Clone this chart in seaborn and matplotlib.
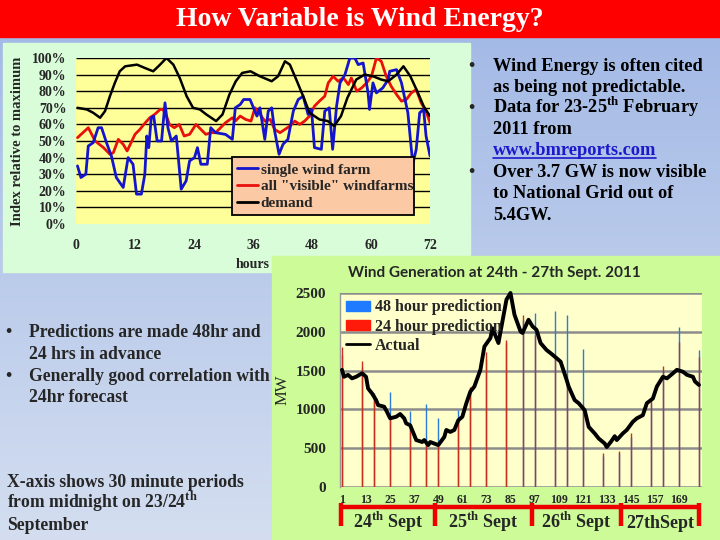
import numpy as np
import matplotlib
matplotlib.use("Agg")
import matplotlib.pyplot as plt
import matplotlib.transforms as mtransforms
from matplotlib.patches import Rectangle, Patch
from matplotlib.lines import Line2D
import seaborn as sns

# ---- chart 1: 23-25 Feb 2011, index relative to maximum ----
farm_hours = [0.3, 1, 2, 2.5, 3.5, 4.5, 5.2, 6.2, 7.2, 8.2, 9.6, 10.6, 11.6, 12.3, 13.3, 14, 14.4, 14.8, 15.3, 15.8,
              16.5, 17.4, 18.1, 18.7, 19.4, 20.4, 21.4, 22.4, 23.1, 24.1, 24.7, 25.4, 26.7, 27.4, 28.4, 30.4, 31.8,
              32.4, 33.4, 34.1, 35.4, 36.1, 36.8, 37.4, 38.4, 39.1, 39.8, 40.4, 41.3, 42.1, 43.1, 44.2, 45.2, 46.2,
              47.2, 47.9, 48.5, 49.9, 50.6, 51.5, 52.2, 53, 53.7, 54.7, 55.7, 56.7, 57.4, 58.4, 59.4, 59.7, 60.4,
              61.1, 62.4, 63.5, 63.8, 65.2, 66.2, 67.5, 68.5, 69.2, 69.9, 70.7, 71.2, 72]
farm_pct = [35, 28, 30, 47, 49, 58, 58, 49, 41, 28, 22, 40, 36, 18, 18, 30, 53, 46, 64, 65,
            50, 50, 73, 58, 50, 53, 21, 26, 38, 40, 46, 36, 36, 58, 55, 54, 51,
            70, 72, 75, 75, 70, 65, 70, 51, 68, 70, 56, 42, 48, 51, 68, 75, 77,
            66, 69, 46, 45, 68, 70, 45, 71, 85, 90, 100, 100, 96, 97, 79, 69, 85,
            79, 82, 87, 92, 93, 85, 67, 36, 45, 67, 69, 53, 41]

visible_hours = [0.3, 2.5, 3.9, 5.6, 6.9, 7.6, 8.6, 9.6, 10.4, 12, 13, 13.8, 15, 16, 17.1, 17.7, 18.4, 19, 20, 21,
                 22, 23.1, 24.4, 25.4, 26.4, 27.4, 28.4, 29.4, 30.4, 31.8, 32.4, 33.4, 34.5, 35.6, 36.4, 37.2, 38.4,
                 39.5, 40.4, 41.5, 42.5, 43.5, 44.5, 45.5, 46.5, 47.5, 48.5, 49.5, 50.6, 51.3, 52.3, 53.3, 54.4,
                 55.4, 56, 57.1, 58.1, 59.1, 60.1, 61.1, 62.1, 63.1, 64.1, 65.2, 66.2, 67.2, 68.2, 69.2, 70.2,
                 71.2, 72]
visible_pct = [52, 58, 50, 46, 42, 43, 51, 48, 44, 54, 57, 60, 64, 66, 69, 69, 65, 60, 58, 60,
               53, 54, 60, 57, 54, 55, 55, 58, 61, 64, 62, 65, 63, 62, 70, 67, 62,
               63, 57, 55, 57, 59, 62, 60, 62, 65, 71, 74, 77, 85, 89, 86, 88,
               84, 88, 80, 82, 85, 89, 100, 98, 89, 83, 78, 74, 75, 79, 81, 73,
               68, 61]

demand_hours = [0.3, 2.2, 3.5, 4.9, 5.9, 6.9, 7.9, 8.9, 10, 12.4, 14, 15.7, 17.1, 18.4, 19.8, 21.1, 22.5, 23.8,
                25.2, 26.5, 28.5, 29.8, 31.2, 32.5, 33.8, 35.5, 37.4, 39.8, 41.1, 42.5, 43.5, 44.8, 46.2, 47.5,
                49.5, 51.2, 52.5, 53.9, 55.2, 57, 58.7, 60.4, 62.1, 63.5, 65.2, 66.6, 68, 69.4, 70.7, 72]
demand_pct = [70, 69, 67, 64, 68, 77, 85, 92, 95, 96, 94, 92, 96, 100, 96, 88, 77, 70,
              69, 66, 62, 66, 78, 86, 91, 92, 89, 86, 89, 98, 96, 87, 77, 67,
              63, 62, 59, 65, 76, 87, 90, 89, 87, 86, 90, 95, 89, 80, 71, 65]

hour_ticks = [0, 12, 24, 36, 48, 60, 72]
pct_ticks = [0, 10, 20, 30, 40, 50, 60, 70, 80, 90, 100]
series1_labels = ["single wind farm", 'all "visible" windfarms', "demand"]

# ---- chart 2: wind generation 24-27 Sept 2011 (half-hour periods) ----
pred_periods = [1, 11, 17, 25, 35, 43, 49, 59, 65, 73, 83, 91, 97, 107, 113, 121, 131, 139, 145, 155, 161, 169, 179]
pred_24h = [1810, 1625, 1190, 885, 760, 550, 530, 885, 1290, 1735, 1900, 2215, 1960, 1680, 1350, 1060,
            435, 470, 690, 1110, 1560, 1875, 1680]
pred_48h = [1700, 1550, 1210, 1230, 980, 1075, 890, 990, 1270, 1650, 1850, 2150, 2240, 2270, 2220, 1780,
            400, 440, 650, 1080, 1500, 2065, 1765]

actual_periods = [1, 2, 4, 6, 8, 11, 13, 14, 16, 18, 19, 22, 23, 25, 28, 30, 32, 33, 35, 37, 38, 41, 42, 44, 45,
                  47, 49, 52, 53, 55, 57, 59, 61, 63, 65, 67, 70, 72, 75, 76, 79, 81, 83, 85, 87, 90, 91, 94, 96,
                  98, 100, 103, 105, 108, 110, 113, 114, 117, 119, 122, 124, 127, 129, 132, 133, 135, 137, 138,
                  141, 143, 146, 148, 151, 153, 156, 158, 161, 163, 166, 168, 171, 173, 176, 177, 179]
actual_mw = [1510, 1420, 1445, 1400, 1420, 1465, 1420, 1270, 1205, 1120, 1055, 1035, 990, 885, 905, 940, 885,
             820, 795, 670, 605, 580, 605, 540, 580, 560, 540, 645, 735, 710, 735, 860, 905, 1080, 1230, 1295,
             1510, 1810, 1920, 2045, 1855, 2135, 2415, 2500, 2220, 2005, 1985, 2155, 2070, 2025, 1855, 1765,
             1725, 1660, 1615, 1380, 1295, 1120, 1080, 990, 775, 690, 625, 560, 515, 580, 655, 605, 690, 735,
             840, 885, 925, 1080, 1140, 1295, 1420, 1400, 1465, 1510, 1485, 1445, 1420, 1360, 1315]

period_ticks = [1, 13, 25, 37, 49, 61, 73, 85, 97, 109, 121, 133, 145, 157, 169]
mw_ticks = [0, 500, 1000, 1500, 2000, 2500]
day_edges = [0.5, 47.5, 95.5, 140, 179]
day_labels = [r"24$^{\mathbf{th}}$ Sept", r"25$^{\mathbf{th}}$ Sept", r"26$^{\mathbf{th}}$ Sept", "27thSept"]
series2_labels = ["48 hour prediction", "24 hour prediction", "Actual"]

W, H = 720, 540


def fx(x):
    return x / W


def fy(y):
    return 1 - y / H


def box(x0, y0, x1, y1):
    return [x0 / W, 1 - y1 / H, (x1 - x0) / W, (y1 - y0) / H]


sns.set_style("white")
plt.rcParams['font.family'] = ['Liberation Serif', 'DejaVu Serif']
plt.rcParams['mathtext.fontset'] = 'custom'
plt.rcParams['mathtext.rm'] = 'Liberation Serif'
plt.rcParams['mathtext.bf'] = 'Liberation Serif:bold'

fig = plt.figure(figsize=(7.2, 5.4), dpi=100)

# slide background gradient
bg = fig.add_axes([0, 0, 1, 1], zorder=-10)
top = np.array([0.63, 0.72, 0.90])
bot = np.array([0.83, 0.87, 0.94])
t = np.linspace(0, 1, 256)[:, None]
grad = (top * (1 - t) + bot * t)[:, None, :]
bg.imshow(grad, extent=[0, 1, 0, 1], aspect='auto')
bg.axis('off')

# title bar
fig.patches.append(Rectangle((0, fy(37)), 1, 37 / H, transform=fig.transFigure, color='#ff0000', zorder=-5))
fig.text(0.5, fy(19), "How Variable is Wind Energy?", color='white', fontsize=20, weight='bold',
         ha='center', va='center')

# panel backgrounds
fig.patches.append(Rectangle((fx(3), fy(272)), 467 / W, 229 / H, transform=fig.transFigure,
                             color='#d9fcd9', zorder=-4))
fig.patches.append(Rectangle((fx(272), fy(540)), 448 / W, 284 / H, transform=fig.transFigure,
                             color='#ccfb98', zorder=-3))

# ---------------- chart 1 ----------------
ax1 = fig.add_axes(box(76, 58, 430, 224))
ax1.set_facecolor('#ffff99')
ax1.hlines(pct_ticks[1:], 0, 72, color='black', lw=1, zorder=1)
sns.lineplot(x=visible_hours, y=visible_pct, ax=ax1, color='#e8100c', lw=2)
sns.lineplot(x=farm_hours, y=farm_pct, ax=ax1, color='#1414cc', lw=2)
sns.lineplot(x=demand_hours, y=demand_pct, ax=ax1, color='black', lw=1.8)
ax1.set_xlim(0, 72)
ax1.set_ylim(0, 100)
ax1.set_xticks(hour_ticks)
ax1.set_yticks(pct_ticks)
ax1.set_yticklabels([f"{v}%" for v in pct_ticks])
for s in ax1.spines.values():
    s.set_visible(False)
ax1.tick_params(axis='x', length=4, direction='out', color='black', pad=7, labelsize=10)
ax1.tick_params(axis='y', length=0, pad=7, labelsize=10)
for lab in ax1.get_xticklabels() + ax1.get_yticklabels():
    lab.set_fontweight('bold')
ax1.set_xlabel("hours", fontsize=10, weight='bold', labelpad=4)
ax1.set_ylabel("Index relative to maximum", fontsize=10.5, weight='bold', labelpad=6)

h1 = [Line2D([], [], color=c, lw=2) for c in ['#1414cc', '#e8100c', 'black']]
leg1 = ax1.legend(h1, series1_labels, loc='lower left', bbox_to_anchor=(0.418, 0.006, 0.559, 0.355),
                  mode='expand', prop={'size': 11, 'weight': 'bold'}, handlelength=1.4,
                  handletextpad=0.15, labelspacing=0.2, borderpad=0.35, fancybox=False, framealpha=1)
leg1.get_frame().set_facecolor('#fbc9a3')
leg1.get_frame().set_edgecolor('black')
leg1.get_frame().set_linewidth(1.3)

# ---------------- chart 2 ----------------
ax2 = fig.add_axes(box(340, 293, 702, 487))
ax2.set_facecolor('#ffffcc')
ax2.vlines(pred_periods, 0, pred_48h, color='#2c7bd6', lw=1, zorder=2)
ax2.vlines(pred_periods, 0, pred_24h, color='#c8301e', lw=1, zorder=3)
sns.lineplot(x=actual_periods, y=actual_mw, ax=ax2, color='black', lw=2.8, zorder=4)
for ln in ax2.get_lines():
    ln.set_clip_on(False)
ax2.set_xlim(0, 180.5)
ax2.set_ylim(0, 2500)
ax2.set_xticks(period_ticks)
ax2.set_yticks(mw_ticks)
ax2.grid(axis='y', color='#8c8c8c', lw=1.8)
ax2.set_axisbelow(True)
for k, s in ax2.spines.items():
    s.set_visible(k == 'left')
ax2.spines['left'].set_color('#9a9a9a')
ax2.spines['left'].set_linewidth(1)
ax2.tick_params(axis='x', length=0, pad=5, labelsize=8.5)
ax2.tick_params(axis='y', length=0, pad=10, labelsize=11)
for lab in ax2.get_xticklabels() + ax2.get_yticklabels():
    lab.set_fontweight('bold')

h2 = [Patch(color='#1f7bff'), Patch(color='#ff1a0a'), Line2D([], [], color='black', lw=2)]
ax2.legend(h2, series2_labels, loc='upper left', bbox_to_anchor=(0.0, 1.0), frameon=False,
           prop={'size': 11.5, 'weight': 'bold'}, handlelength=1.5, handleheight=0.6,
           handletextpad=0.3, labelspacing=0.2, borderpad=0.2, borderaxespad=0.2)

# day brackets under the x axis
trans = mtransforms.blended_transform_factory(ax2.transData, ax2.transAxes)
ax2.plot([day_edges[0], day_edges[-1]], [-0.103, -0.103], color='#ee0000', lw=3.2,
         transform=trans, clip_on=False, solid_capstyle='butt')
for e in day_edges:
    ax2.plot([e, e], [-0.085, -0.2], color='#ee0000', lw=3.2, transform=trans, clip_on=False,
             solid_capstyle='butt')
for i, lab in enumerate(day_labels):
    mid = (day_edges[i] + day_edges[i + 1]) / 2
    ax2.text(mid, -0.211, lab, transform=trans, ha='center', va='baseline', fontsize=13, weight='bold')

fig.text(fx(283), fy(390), "MW", rotation=90, ha='center', va='center', fontsize=12)
fig.text(fx(494), fy(273), "Wind Generation at 24th - 27th Sept. 2011", family=['Lato', 'DejaVu Sans'],
         weight='bold', fontsize=11, ha='center', va='center')

# ---------------- slide text ----------------
ts = 12.7
right_lines = [
    (True, 71, "Wind Energy is often cited"),
    (False, 92, "as being not predictable."),
    (True, 113, r"Data for 23-25$^{\mathbf{th}}$ February"),
    (False, 134, "2011 from"),
    (False, 155, "www.bmreports.com"),
    (True, 177, "Over 3.7 GW is now visible"),
    (False, 198, "to National Grid out of"),
    (False, 220, "5.4GW."),
]
link = None
for bullet, yb, txt in right_lines:
    if bullet:
        fig.text(fx(468), fy(yb), "•", fontsize=ts, weight='bold', va='baseline')
    col = '#1a1acc' if txt.startswith("www") else 'black'
    tt = fig.text(fx(493), fy(yb), txt, fontsize=ts + 0.5, weight='bold', va='baseline', color=col)
    if txt.startswith("www"):
        link = tt

left_lines = [
    (True, 337, "Predictions are made 48hr and"),
    (False, 359, "24 hrs in advance"),
    (True, 381, "Generally good correlation with"),
    (False, 402, "24hr forecast"),
]
for bullet, yb, txt in left_lines:
    if bullet:
        fig.text(fx(5), fy(yb), "•", fontsize=ts, weight='bold', va='baseline')
    fig.text(fx(29), fy(yb), txt, fontsize=ts, weight='bold', va='baseline')

bottom_lines = [
    (487, "X-axis shows 30 minute periods"),
    (508, r"from midnight on 23/24$^{\mathbf{th}}$"),
    (530, "September"),
]
for yb, txt in bottom_lines:
    fig.text(fx(7), fy(yb), txt, fontsize=ts, weight='bold', va='baseline')

# underline for the link
r = fig.canvas.get_renderer()
bb = link.get_window_extent(r)
fig.add_artist(Line2D([bb.x0 / W, bb.x1 / W], [fy(157.5), fy(157.5)], color='#1a1acc', lw=1.2))

fig.savefig("out.png", dpi=100)
